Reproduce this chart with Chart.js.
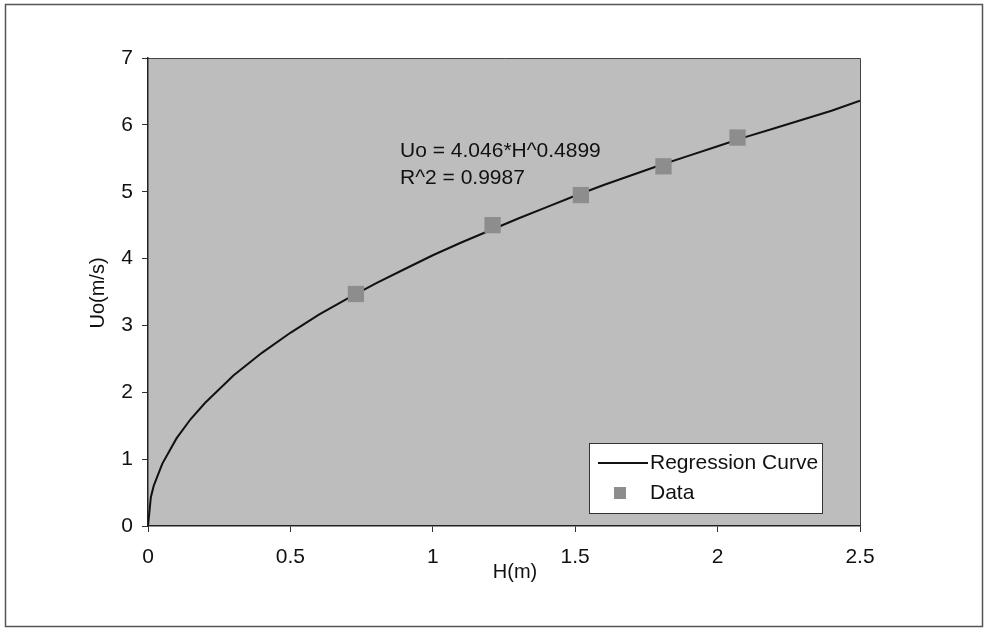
<!DOCTYPE html>
<html>
<head>
<meta charset="utf-8">
<title>Uo vs H</title>
<script src="https://cdn.jsdelivr.net/npm/chart.js@4/dist/chart.umd.min.js"></script>
<style>
  html, body { margin: 0; padding: 0; background: #fff; }
  #wrap { width: 984px; height: 629px; }
</style>
</head>
<body>
<div id="wrap"><canvas id="chart" width="984" height="629"></canvas></div>
<script>
// Regression curve
const curveH = [0, 0.01, 0.02, 0.05, 0.1, 0.15, 0.2, 0.3, 0.4, 0.5, 0.6, 0.7, 0.8, 0.9, 1.0,
                1.1, 1.2, 1.3, 1.4, 1.5, 1.6, 1.7, 1.8, 1.9, 2.0, 2.1, 2.2, 2.3, 2.4, 2.5];
const curveU = [0, 0.43, 0.60, 0.93, 1.31, 1.60, 1.84, 2.25, 2.59, 2.89, 3.16, 3.40, 3.63, 3.84, 4.05,
                4.24, 4.42, 4.60, 4.77, 4.94, 5.10, 5.25, 5.40, 5.54, 5.68, 5.82, 5.95, 6.08, 6.21, 6.36];

// Measured points
const dataH = [0.73, 1.21, 1.52, 1.81, 2.07];
const dataU = [3.47, 4.50, 4.95, 5.38, 5.81];

const xTicks = [0, 0.5, 1, 1.5, 2, 2.5];
const yTicks = [0, 1, 2, 3, 4, 5, 6, 7];

const fitLines = ['Uo = 4.046*H^0.4899', 'R^2 = 0.9987'];
const seriesNames = ['Regression Curve', 'Data'];

const FONT = '"Liberation Sans", Arial, sans-serif';
const PLOT_FILL = '#bdbdbd';
const MARK_FILL = '#8d8d8d';

const toXY = (xs, ys) => xs.map((x, i) => ({ x: x, y: ys[i] }));

// page frame, plot fill and plot border
const framePlugin = {
    id: 'frame',
    beforeDraw(chart) {
        const { ctx, chartArea: a } = chart;
        ctx.save();
        ctx.fillStyle = '#fff';
        ctx.fillRect(0, 0, chart.width, chart.height);
        ctx.strokeStyle = '#555';
        ctx.lineWidth = 1.5;
        ctx.strokeRect(5.5, 4.5, 977, 622);
        ctx.fillStyle = PLOT_FILL;
        ctx.fillRect(a.left, a.top, a.right - a.left, a.bottom - a.top);
        ctx.strokeStyle = '#444';
        ctx.lineWidth = 1;
        ctx.beginPath();
        ctx.moveTo(a.left, a.top + 0.5);
        ctx.lineTo(a.right + 0.5, a.top + 0.5);
        ctx.lineTo(a.right + 0.5, a.bottom);
        ctx.stroke();
        ctx.restore();
    }
};

// fit equation, legend box and axis titles
const labelsPlugin = {
    id: 'labels',
    afterDatasetsDraw(chart) {
        const { ctx } = chart;
        const xs = chart.scales.x, ys = chart.scales.y;
        ctx.save();
        ctx.font = '21px ' + FONT;
        ctx.fillStyle = '#111';
        ctx.textBaseline = 'middle';
        ctx.textAlign = 'left';
        ctx.fillText(fitLines[0], xs.getPixelForValue(0.885), ys.getPixelForValue(5.61));
        ctx.fillText(fitLines[1], xs.getPixelForValue(0.885), ys.getPixelForValue(5.20));

        // legend
        const bx = 589, by = 443, bw = 233, bh = 70;
        ctx.fillStyle = '#fff';
        ctx.fillRect(bx, by, bw, bh);
        ctx.strokeStyle = '#333';
        ctx.lineWidth = 1;
        ctx.strokeRect(bx + 0.5, by + 0.5, bw, bh);
        const curve = chart.data.datasets[0];
        ctx.strokeStyle = curve.borderColor;
        ctx.lineWidth = curve.borderWidth;
        ctx.beginPath();
        ctx.moveTo(598, 463);
        ctx.lineTo(648, 463);
        ctx.stroke();
        ctx.fillStyle = MARK_FILL;
        ctx.fillRect(614, 487, 12, 12);
        ctx.fillStyle = '#111';
        ctx.fillText(seriesNames[0], 650, 463);
        ctx.fillText(seriesNames[1], 650, 493);
        ctx.restore();
    },
    afterDraw(chart) {
        const { ctx } = chart;
        ctx.save();
        ctx.font = '20px ' + FONT;
        ctx.fillStyle = '#111';
        ctx.textAlign = 'center';
        ctx.textBaseline = 'middle';
        ctx.fillText('H(m)', 515, 572);
        ctx.translate(98, 293);
        ctx.rotate(-Math.PI / 2);
        ctx.fillText('Uo(m/s)', 0, 0);
        ctx.restore();
    }
};

new Chart(document.getElementById('chart'), {
    type: 'scatter',
    data: {
        datasets: [
            {
                label: seriesNames[0],
                data: toXY(curveH, curveU),
                showLine: true,
                borderColor: '#111',
                borderWidth: 2,
                pointRadius: 0,
                tension: 0,
                order: 2
            },
            {
                label: seriesNames[1],
                data: toXY(dataH, dataU),
                pointStyle: 'rect',
                pointRadius: 11.5,
                backgroundColor: MARK_FILL,
                borderWidth: 0,
                order: 1
            }
        ]
    },
    options: {
        responsive: false,
        animation: false,
        layout: { padding: { top: 58, right: 124, left: 0, bottom: 0 } },
        plugins: {
            legend: { display: false },
            tooltip: { enabled: false }
        },
        scales: {
            x: {
                type: 'linear',
                min: 0,
                max: 2.5,
                afterFit(scale) { scale.height = 103; },
                afterBuildTicks(scale) { scale.ticks = xTicks.map(v => ({ value: v })); },
                grid: { drawOnChartArea: false, drawTicks: true, tickLength: 6, color: '#333' },
                border: { color: '#222', width: 1.5 },
                ticks: {
                    color: '#111',
                    padding: 13,
                    font: { family: FONT, size: 21 },
                    callback: v => String(v)
                }
            },
            y: {
                type: 'linear',
                min: 0,
                max: 7,
                afterFit(scale) { scale.width = 148; },
                afterBuildTicks(scale) { scale.ticks = yTicks.map(v => ({ value: v })); },
                grid: { drawOnChartArea: false, drawTicks: true, tickLength: 6, color: '#333' },
                border: { color: '#222', width: 1.5 },
                ticks: {
                    color: '#111',
                    padding: 9,
                    font: { family: FONT, size: 21 },
                    callback: v => String(v)
                }
            }
        }
    },
    plugins: [framePlugin, labelsPlugin]
});
</script>
</body>
</html>
